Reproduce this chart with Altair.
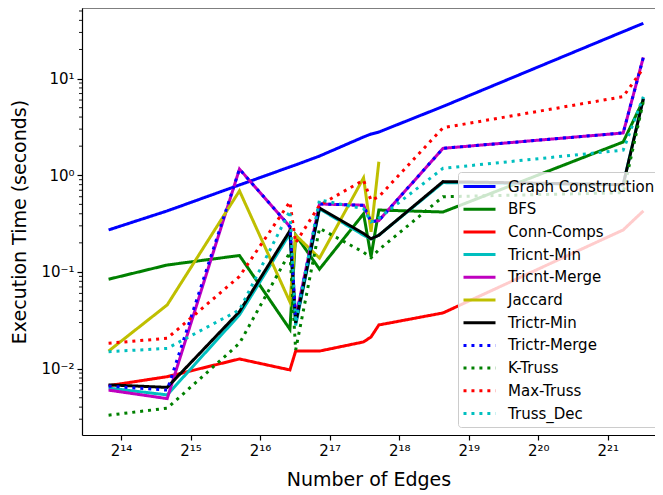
import altair as alt
import pandas as pd

# x positions: number of edges of each graph
edges = [14484, 25973, 53381, 88234, 93439, 118489, 183831, 198050, 214078, 405740, 2443408, 2987624]

series_names = ["Graph Construction", "BFS", "Conn-Comps", "Tricnt-Min", "Tricnt-Merge",
                "Jaccard", "Trictr-Min", "Trictr-Merge", "K-Truss", "Max-Truss", "Truss_Dec"]

graph_construction = [0.272, 0.428, 0.794, 1.22, 1.28, 1.58, 2.49, 2.67, 2.8, 5.15, 30.6, 37.3]
bfs = [0.0841, 0.118, 0.148, 0.0255, 0.241, 0.107, 0.40, 0.144, 0.437, 0.417, 2.21, 6.0]
conn_comps = [0.00667, 0.00826, 0.0126, 0.0097, 0.0152, 0.0152, 0.0189, 0.0213, 0.0283, 0.0377, 0.272, 0.428]
tricnt_min = [0.0063, 0.00535, 0.036, 0.25, 0.028, 0.45, 0.24, 0.22, 0.24, 0.84, 0.8, 6.3]
tricnt_merge = [0.006, 0.0049, 1.16, 0.294, 0.0334, 0.505, 0.49, 0.331, 0.34, 1.9, 2.74, 16.6]
jaccard = [0.0152, 0.0456, 0.69, 0.049, 0.24, 0.139, 0.94, 0.26, 1.38, None, None, None]
trictr_min = [0.0068, 0.0064, 0.0389, 0.267, 0.0297, 0.459, 0.25, 0.22, 0.24, 0.86, 0.8, 6.2]
trictr_merge = [0.0066, 0.006, 1.16, 0.294, 0.032, 0.505, 0.49, 0.331, 0.34, 1.9, 2.74, 16.6]
k_truss = [0.0033, 0.0039, 0.0183, 0.16, 0.0156, 0.283, 0.16, 0.14, 0.17, 0.6, 0.66, 5.8]
max_truss = [0.0183, 0.0206, 0.09, 0.53, 0.2, 0.49, 0.89, 0.55, 0.6, 3.1, 6.5, 12.8]
truss_dec = [0.015, 0.0162, 0.0405, 0.43, 0.03, 0.556, 0.45, 0.33, 0.36, 1.18, 1.82, 6.5]

all_values = [graph_construction, bfs, conn_comps, tricnt_min, tricnt_merge, jaccard,
              trictr_min, trictr_merge, k_truss, max_truss, truss_dec]

colors = ["#0000ff", "#008000", "#ff0000", "#00bfbf", "#bf00bf", "#bfbf00",
          "#000000", "#0000ff", "#008000", "#ff0000", "#00bfbf"]
dashes = [[1, 0]] * 7 + [[3, 4.95]] * 4

x_ticks = [2 ** k for k in range(14, 22)]
x_labels = ["2¹⁴", "2¹⁵", "2¹⁶", "2¹⁷", "2¹⁸", "2¹⁹", "2²⁰", "2²¹"]
y_ticks = [0.01, 0.1, 1, 10]
y_labels = ["10⁻²", "10⁻¹", "10⁰", "10¹"]
y_minor = [m * 10 ** e for e in range(-3, 2) for m in range(2, 10)]
y_minor = [v for v in y_minor if 0.00206 < v < 53.7]

rows = []
for name, vals in zip(series_names, all_values):
    for e, v in zip(edges, vals):
        if v is not None:
            rows.append({"series": name, "edges": e, "time": v})
df = pd.DataFrame(rows)

W, H = 573, 427

xscale = alt.Scale(type="log", base=2, domain=[11113, 3355000], nice=False)
yscale = alt.Scale(type="log", base=10, domain=[0.00206, 53.7], nice=False)

xlab_expr = "[" + ",".join("'%s'" % s for s in x_labels) + "][round(log(datum.value)/LN2)-14]"
ylab_expr = "[" + ",".join("'%s'" % s for s in y_labels) + "][round(log(datum.value)/LN10)+2]"

xaxis = alt.Axis(values=x_ticks, labelExpr=xlab_expr, title="Number of Edges", grid=False,
                 tickSize=5, labelPadding=3, titlePadding=12)
yaxis = alt.Axis(values=y_ticks, labelExpr=ylab_expr, title="Execution Time (seconds)", grid=False,
                 tickSize=5, labelPadding=3, titlePadding=11)

legend = alt.Legend(title=None, orient="none", legendX=376, legendY=164,
                    symbolType="M-2,0H2", symbolSize=256, symbolStrokeWidth=3,
                    labelFontSize=15, labelColor="black", labelOffset=19, symbolOffset=7,
                    rowPadding=4.7, padding=5, fillColor="rgba(255,255,255,0.8)",
                    strokeColor="#cccccc", cornerRadius=3)

color_enc = alt.Color("series:N", scale=alt.Scale(domain=series_names, range=colors), legend=legend)
dash_enc = alt.StrokeDash("series:N", scale=alt.Scale(domain=series_names, range=dashes), legend=legend)

base = alt.Chart(df)
layers = []
for name in series_names:
    layers.append(
        base.transform_filter(alt.datum.series == name)
        .mark_line(strokeWidth=3)
        .encode(
            x=alt.X("edges:Q", scale=xscale, axis=xaxis),
            y=alt.Y("time:Q", scale=yscale, axis=yaxis),
            color=color_enc,
            strokeDash=dash_enc,
        )
    )

minor = alt.Chart(pd.DataFrame({"time": y_minor})).mark_rule(color="black", strokeWidth=0.9).encode(
    y=alt.Y("time:Q", scale=yscale, axis=yaxis),
    x=alt.value(0),
    x2=alt.value(-3),
)

top = alt.Chart(pd.DataFrame({"a": [0]})).mark_rule(color="black", strokeWidth=1.2).encode(
    x=alt.value(0), x2=alt.value(W), y=alt.value(0)
)

chart = alt.layer(*layers, minor, top).properties(
    width=W, height=H,
    autosize=alt.AutoSizeParams(type="none"),
    padding={"left": 74, "top": 0, "right": 0, "bottom": 56},
).configure(font="DejaVu Sans").configure_view(strokeWidth=0).configure_axis(
    labelFontSize=15, labelColor="black", titleFontSize=19, titleFontWeight="normal",
    titleColor="black", domainColor="black", tickColor="black", domainWidth=1.2, tickWidth=1.2,
    labelFont="DejaVu Sans", titleFont="DejaVu Sans"
).configure_legend(labelFont="DejaVu Sans")

chart.save("out.html", embed_options={"renderer": "svg", "actions": False})
